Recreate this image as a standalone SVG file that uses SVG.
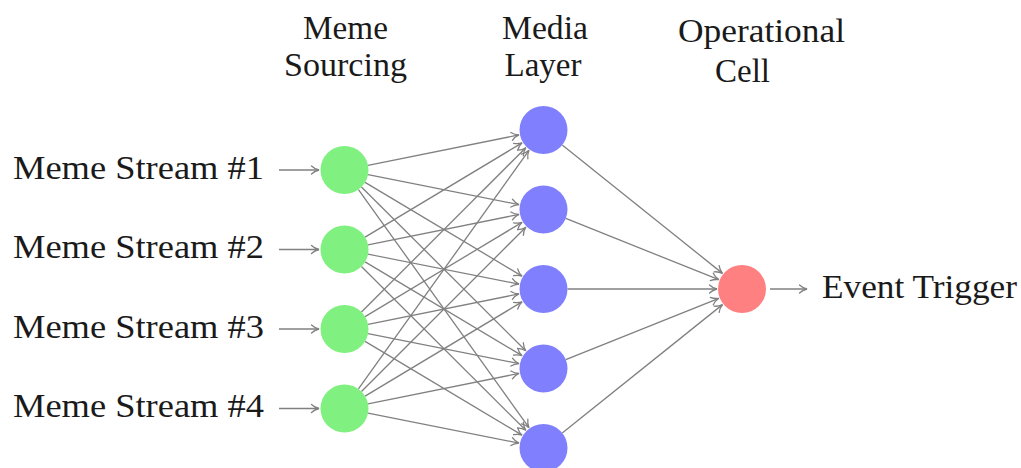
<svg xmlns="http://www.w3.org/2000/svg" width="1021" height="468" viewBox="0 0 1021 468">
<style>
  .lbl { font-family: "Liberation Serif", "Times New Roman", serif; font-size: 33px; fill: #1a1a1a; }
  .mid { text-anchor: middle; }
  .edge { stroke: #808080; stroke-width: 1.3; fill: none; marker-end: url(#tip); }
  .src { fill: #80F080; }
  .med { fill: #8080FF; }
  .out { fill: #FF8080; }
</style>
<defs>
  <marker id="tip" markerUnits="userSpaceOnUse" viewBox="-10 -6 12 12" refX="0" refY="0" markerWidth="12" markerHeight="12" orient="auto" overflow="visible">
    <path d="M-7.5,-4 C-5,-1.6 -2.2,-0.5 0,0 C-2.2,0.5 -5,1.6 -7.5,4" fill="none" stroke="#808080" stroke-width="1.3" stroke-linecap="round"/>
  </marker>
</defs>
<rect width="1021" height="468" fill="#ffffff"/>

<g id="headers">
  <text class="lbl mid" x="345.5" y="39" textLength="85" lengthAdjust="spacingAndGlyphs">Meme</text>
  <text class="lbl mid" x="345.5" y="76" textLength="123" lengthAdjust="spacingAndGlyphs">Sourcing</text>
  <text class="lbl mid" x="545" y="39" textLength="86" lengthAdjust="spacingAndGlyphs">Media</text>
  <text class="lbl mid" x="543" y="76" textLength="77" lengthAdjust="spacingAndGlyphs">Layer</text>
  <text class="lbl mid" x="761.5" y="42" textLength="167" lengthAdjust="spacingAndGlyphs">Operational</text>
  <text class="lbl mid" x="742.5" y="82" textLength="55" lengthAdjust="spacingAndGlyphs">Cell</text>
</g>

<g id="connectors">
  <path class="edge" d="M279,170 L319,170"/>
  <path class="edge" d="M279,249.5 L319,249.5"/>
  <path class="edge" d="M279,329 L319,329"/>
  <path class="edge" d="M279,408.5 L319,408.5"/>

  <path class="edge" d="M368.03,165.27 L518.99,134.93"/>
  <path class="edge" d="M368.03,174.73 L518.99,204.57"/>
  <path class="edge" d="M365.08,182.36 L522.07,276.13"/>
  <path class="edge" d="M361.47,186.97 L525.82,350.82"/>
  <path class="edge" d="M358.45,189.53 L528.97,427.66"/>

  <path class="edge" d="M365.08,237.14 L522.07,142.87"/>
  <path class="edge" d="M368.03,244.77 L518.99,214.43"/>
  <path class="edge" d="M368.03,254.23 L518.99,284.07"/>
  <path class="edge" d="M365.08,261.86 L522.07,355.63"/>
  <path class="edge" d="M361.47,266.47 L525.82,430.32"/>

  <path class="edge" d="M361.47,312.03 L525.82,147.68"/>
  <path class="edge" d="M365.08,316.64 L522.07,222.37"/>
  <path class="edge" d="M368.03,324.27 L518.99,293.93"/>
  <path class="edge" d="M368.03,333.73 L518.99,363.57"/>
  <path class="edge" d="M365.08,341.36 L522.07,435.13"/>

  <path class="edge" d="M358.45,388.97 L528.97,150.34"/>
  <path class="edge" d="M361.47,391.53 L525.82,227.18"/>
  <path class="edge" d="M365.08,396.14 L522.07,301.87"/>
  <path class="edge" d="M368.03,403.77 L518.99,373.43"/>
  <path class="edge" d="M368.03,413.23 L518.99,443.07"/>

  <path class="edge" d="M562.23,145 L722.49,273.37"/>
  <path class="edge" d="M565.78,218.42 L718.79,279.7"/>
  <path class="edge" d="M567.5,289 L717,289"/>
  <path class="edge" d="M565.78,359.58 L718.79,298.3"/>
  <path class="edge" d="M562.23,433 L722.49,304.63"/>

  <path class="edge" d="M770,289 L807,289"/>
</g>

<g id="input-labels">
  <text class="lbl" x="13" y="178.5" textLength="251" lengthAdjust="spacingAndGlyphs">Meme Stream #1</text>
  <text class="lbl" x="13" y="258" textLength="251" lengthAdjust="spacingAndGlyphs">Meme Stream #2</text>
  <text class="lbl" x="13" y="337.5" textLength="251" lengthAdjust="spacingAndGlyphs">Meme Stream #3</text>
  <text class="lbl" x="13" y="417" textLength="251" lengthAdjust="spacingAndGlyphs">Meme Stream #4</text>
</g>

<g id="source-1"><circle class="src" cx="344.5" cy="170" r="24"/></g>
<g id="source-2"><circle class="src" cx="344.5" cy="249.5" r="24"/></g>
<g id="source-3"><circle class="src" cx="344.5" cy="329" r="24"/></g>
<g id="source-4"><circle class="src" cx="344.5" cy="408.5" r="24"/></g>

<g id="media-1"><circle class="med" cx="543.5" cy="130" r="24"/></g>
<g id="media-2"><circle class="med" cx="543.5" cy="209.5" r="24"/></g>
<g id="media-3"><circle class="med" cx="543.5" cy="289" r="24"/></g>
<g id="media-4"><circle class="med" cx="543.5" cy="368.5" r="24"/></g>
<g id="media-5"><circle class="med" cx="543.5" cy="448" r="24"/></g>

<g id="operational-cell"><circle class="out" cx="742" cy="289" r="24"/></g>

<g id="output-label">
  <text class="lbl" x="822" y="298" textLength="195" lengthAdjust="spacingAndGlyphs">Event Trigger</text>
</g>
</svg>
